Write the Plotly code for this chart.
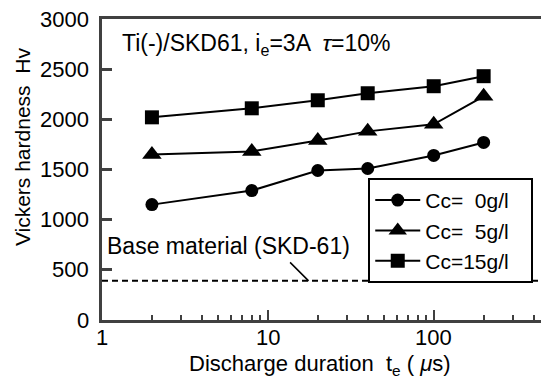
import plotly.graph_objects as go
import math

# ---- data ----
durations = [2, 8, 20, 40, 100, 200]          # discharge duration te (us)
hv_0 = [1150, 1290, 1490, 1510, 1640, 1770]    # Cc = 0 g/l
hv_5 = [1650, 1680, 1790, 1880, 1950, 2230]    # Cc = 5 g/l
hv_15 = [2020, 2110, 2190, 2260, 2330, 2430]   # Cc = 15 g/l
base_hv = 390                                   # base material SKD-61
series_names = ["Cc=\u00a0\u00a00g/l\u00a0\u00a0\u00a0",
                "Cc=\u00a0\u00a05g/l\u00a0\u00a0\u00a0",
                "Cc=15g/l\u00a0\u00a0\u00a0"]
x_major = [1, 10, 100]
x_minor = [2, 3, 4, 5, 6, 7, 8, 9, 20, 30, 40, 50, 60, 70, 80, 90, 200, 300, 400]
y_ticks = [0, 500, 1000, 1500, 2000, 2500, 3000]

FONT = "Liberation Sans, Arial, sans-serif"
FS = 22
XRANGE = [0, 2.671]
YRANGE = [0, 3000]
AXCOL = "#404040"

fig = go.Figure()

for vals, name, sym, size in [(hv_0, series_names[0], "circle", 13),
                              (hv_5, series_names[1], "triangle-up", 17),
                              (hv_15, series_names[2], "square", 14)]:
    fig.add_trace(go.Scatter(
        x=durations, y=vals, name=name, mode="lines+markers",
        line=dict(color="black", width=2),
        marker=dict(symbol=sym, size=size, color="black"),
    ))

# base material dashed line
fig.add_shape(type="line", xref="paper", yref="y", x0=0, x1=1,
              y0=base_hv, y1=base_hv,
              line=dict(color="black", width=2, dash="6px,4px"))

fig.update_layout(
    width=541, height=377,
    margin=dict(l=94, r=1, t=11, b=65),
    paper_bgcolor="white", plot_bgcolor="white",
    font=dict(family=FONT, size=FS, color="black"),
    showlegend=True,
    legend=dict(x=0.601, y=0.472, xanchor="left", yanchor="top",
                bordercolor="black", borderwidth=2, bgcolor="white",
                font=dict(size=21), tracegroupgap=0, itemwidth=45),
    xaxis=dict(type="log", range=XRANGE, showticklabels=False,
               tickmode="array", tickvals=x_major,
               ticks="inside", ticklen=10, tickwidth=2, tickcolor=AXCOL,
               minor=dict(tickmode="array", tickvals=x_minor, ticks="inside",
                          ticklen=5, tickwidth=2, tickcolor=AXCOL, showgrid=False),
               showline=True, linewidth=3, linecolor=AXCOL, mirror=True,
               showgrid=False, zeroline=False),
    yaxis=dict(range=YRANGE, showticklabels=False,
               tickmode="array", tickvals=y_ticks,
               ticks="inside", ticklen=10, tickwidth=3, tickcolor=AXCOL,
               showline=True, linewidth=3, linecolor=AXCOL, mirror=True,
               showgrid=False, zeroline=False),
)

# tick labels
for v in x_major:
    fig.add_annotation(text=str(v), xref="x", yref="paper", x=math.log10(v), y=0,
                       yshift=-17, xanchor="center", yanchor="middle",
                       showarrow=False, font=dict(size=FS))
for v in y_ticks:
    fig.add_annotation(text=str(v), xref="paper", yref="y", x=0, y=v,
                       xshift=-11, xanchor="right", yanchor="middle",
                       showarrow=False, font=dict(size=FS))

fig.add_annotation(text="Ti(-)/SKD61, i<sub>e</sub>=3A  <i>τ</i>=10%",
                   xref="paper", yref="y", x=0.04, y=2750,
                   xanchor="left", yanchor="middle", showarrow=False,
                   font=dict(size=23))
fig.add_annotation(text="Base material (SKD-61)",
                   xref="paper", yref="y", x=0.007, y=740,
                   xanchor="left", yanchor="middle", showarrow=False,
                   font=dict(size=23))
fig.add_annotation(text="", xref="x", yref="y", x=math.log10(17.6), y=base_hv,
                   ax=-20, ay=-20, showarrow=True, arrowhead=0,
                   arrowwidth=1.5, arrowcolor="black")
fig.add_annotation(text="Vickers hardness  Hv", textangle=-90,
                   xref="paper", yref="y", x=-0.179, y=1730,
                   xanchor="center", yanchor="middle", showarrow=False,
                   font=dict(size=21))
fig.add_annotation(text="Discharge duration  t<sub>e</sub> ( <i>μ</i>s)",
                   xref="paper", yref="paper", x=0.491, y=-0.150,
                   xanchor="center", yanchor="middle", showarrow=False,
                   font=dict(size=FS))

fig.write_html("out.html")
